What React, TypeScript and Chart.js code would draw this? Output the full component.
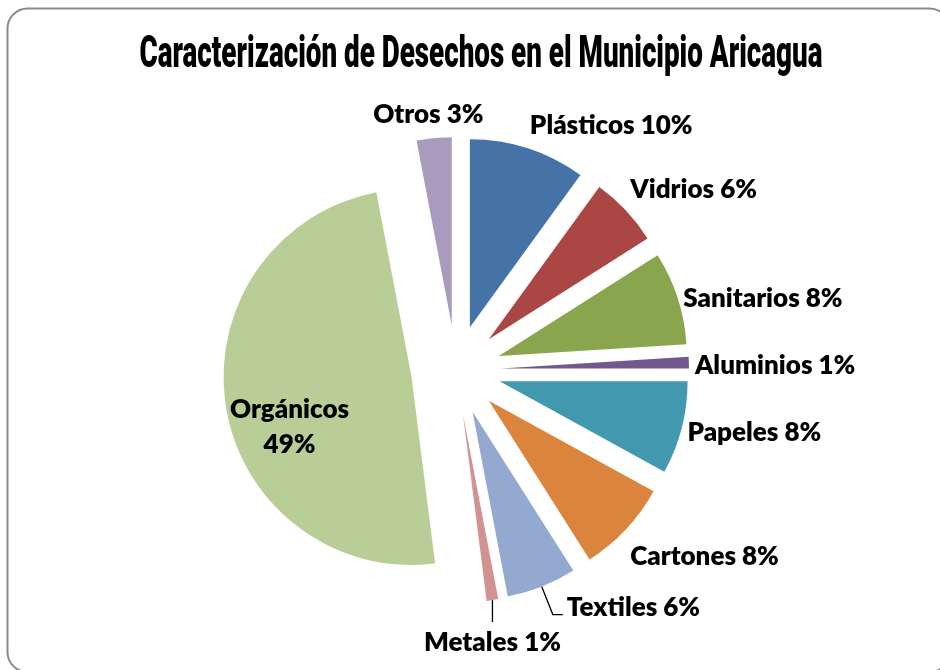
import React, { useEffect, useRef } from 'react';
import { Chart, registerables } from 'chart.js';

Chart.register(...registerables);

// ---------- data ----------
const TITLE = 'Caracterización de Desechos en el Municipio Aricagua';
const categories = ['Plásticos', 'Vidrios', 'Sanitarios', 'Aluminios', 'Papeles', 'Cartones', 'Textiles', 'Metales', 'Orgánicos', 'Otros'];
const percentages = [10, 6, 8, 1, 8, 8, 6, 1, 49, 3];
const colors = ['#4572A7', '#AA4643', '#89A54E', '#71588F', '#4198AF', '#DB843D', '#93A9CF', '#D19392', '#B9CD96', '#A99BBD'];
// labels that were dragged away from their slice (leader line length, px)
const leaderLengths: Record<string, number> = { Textiles: 30, Metales: 22 };

// ---------- layout / style ----------
const W = 940;
const H = 670;
const CENTER_X = 456;
const CENTER_Y = 370;
const RADIUS = 188;
const EXPLODE = 45;
const LABEL_GAP = 6;
const LABEL_FONT = '800 26px Lato, "Open Sans", sans-serif';
const LABEL_SQUEEZE = 1.0;
const CAP_H = 18.5;
const TITLE_FONT = '900 44px Roboto, "Liberation Sans", sans-serif';
const TITLE_WIDTH = 683;
const TITLE_CX = 481;
const TITLE_BASELINE = 67;
const INSIDE_ANGLE_SHIFT = -13 * Math.PI / 180;

const total = percentages.reduce((a, b) => a + b, 0);

function textWidth(ctx: CanvasRenderingContext2D, text: string) {
  ctx.font = LABEL_FONT;
  return ctx.measureText(text).width * LABEL_SQUEEZE;
}

function drawSqueezed(ctx: CanvasRenderingContext2D, text: string, x: number, baseline: number, align: 'left' | 'right' | 'center') {
  const w = textWidth(ctx, text);
  let left = x;
  if (align === 'right') left = x - w;
  else if (align === 'center') left = x - w / 2;
  ctx.save();
  ctx.translate(left, baseline);
  ctx.scale(LABEL_SQUEEZE, 1);
  ctx.font = LABEL_FONT;
  ctx.textAlign = 'left';
  ctx.textBaseline = 'alphabetic';
  ctx.fillText(text, 0, 0);
  ctx.restore();
}

// Each arc keeps the geometry Chart.js computed (x, y, angles, radius);
// it is only pushed outward along its mid angle by its `offset` option.
function explodedCenter(el: any) {
  const half = (el.startAngle + el.endAngle) / 2;
  const D = el.options.offset || 0;
  return { cx: el.x + Math.cos(half) * D, cy: el.y + Math.sin(half) * D, half, D };
}

const decorPlugin = {
  id: 'decor',
  beforeDraw(chart: any) {
    const ctx: CanvasRenderingContext2D = chart.ctx;
    ctx.save();
    ctx.fillStyle = '#ffffff';
    ctx.fillRect(0, 0, W, H);
    ctx.strokeStyle = '#8a8a8a';
    ctx.lineWidth = 2;
    ctx.beginPath();
    (ctx as any).roundRect(7.5, 8.5, 942, 663.5, 20);
    ctx.stroke();

    ctx.font = TITLE_FONT;
    ctx.fillStyle = '#000000';
    const tw = ctx.measureText(TITLE).width;
    ctx.translate(TITLE_CX, TITLE_BASELINE);
    ctx.scale(TITLE_WIDTH / tw, 1);
    ctx.textAlign = 'center';
    ctx.textBaseline = 'alphabetic';
    ctx.fillText(TITLE, 0, 0);
    ctx.restore();
  },
  beforeDatasetDraw(chart: any, args: any) {
    const ctx: CanvasRenderingContext2D = chart.ctx;
    const meta = args.meta;
    ctx.save();
    meta.data.forEach((el: any) => {
      const { cx, cy } = explodedCenter(el);
      ctx.fillStyle = el.options.backgroundColor;
      ctx.beginPath();
      ctx.moveTo(cx, cy);
      ctx.arc(cx, cy, el.outerRadius, el.startAngle, el.endAngle);
      ctx.closePath();
      ctx.fill();
    });
    ctx.restore();
    return false;
  },
  afterDatasetsDraw(chart: any) {
    const ctx: CanvasRenderingContext2D = chart.ctx;
    const meta = chart.getDatasetMeta(0);
    ctx.save();
    ctx.fillStyle = '#000000';
    ctx.strokeStyle = '#000000';
    ctx.lineWidth = 1.3;
    meta.data.forEach((el: any, i: number) => {
      const name = categories[i];
      const pct = Math.round((percentages[i] / total) * 100);
      const text = `${name} ${pct}%`;
      const { cx, cy, half, D } = explodedCenter(el);
      const ux = Math.cos(half);
      const uy = Math.sin(half);
      const R = el.outerRadius;

      if (pct >= 30) {
        const a = half + INSIDE_ANGLE_SHIFT;
        const px = cx + Math.cos(a) * R * 0.7;
        const py = cy + Math.sin(a) * R * 0.7;
        drawSqueezed(ctx, name, px, py - 17.5 + CAP_H / 2, 'center');
        drawSqueezed(ctx, `${pct}%`, px, py + 17.5 + CAP_H / 2, 'center');
        return;
      }

      const lead = leaderLengths[name];
      if (lead) {
        const sx = cx + ux * R;
        const sy = cy + uy * R;
        if (Math.abs(ux) > 0.2) {
          const ex = sx + ux * lead;
          const ey = sy + uy * lead;
          const tx = ex + Math.sign(ux) * 10;
          ctx.beginPath();
          ctx.moveTo(sx, sy);
          ctx.lineTo(ex, ey);
          ctx.lineTo(tx, ey);
          ctx.stroke();
          drawSqueezed(ctx, text, tx + Math.sign(ux) * 4, ey + 1.5, ux > 0 ? 'left' : 'right');
        } else {
          const ey = sy + Math.sign(uy) * lead;
          ctx.beginPath();
          ctx.moveTo(sx, sy);
          ctx.lineTo(sx, ey);
          ctx.stroke();
          drawSqueezed(ctx, text, sx, ey + 10 + CAP_H, 'center');
        }
        return;
      }

      const r = R + LABEL_GAP;
      const px = cx + ux * r;
      const py = cy + uy * r;
      const k = Math.max(0, Math.min(1, (Math.abs(uy) - 0.3) / 0.35));
      const ly = py + 2 + 20 * Math.sign(uy) * k;
      const baseline = ly + CAP_H / 2;
      if (ux > 0.2) drawSqueezed(ctx, text, px, baseline, 'left');
      else if (ux < -0.2) drawSqueezed(ctx, text, px, baseline, 'right');
      else {
        const w = textWidth(ctx, text);
        drawSqueezed(ctx, text, px + (ux * w) / 2, baseline, 'center');
      }
    });
    ctx.restore();
  },
};

export default function App() {
  const ref = useRef<HTMLCanvasElement | null>(null);
  useEffect(() => {
    if (!ref.current) return;
    const chart = new Chart(ref.current, {
      type: 'pie',
      data: {
        labels: categories,
        datasets: [
          {
            data: percentages,
            backgroundColor: colors,
            borderWidth: 0,
            radius: RADIUS,
            offset: EXPLODE,
          } as any,
        ],
      },
      options: {
        responsive: false,
        animation: false,
        devicePixelRatio: 1,
        events: [],
        layout: {
          padding: {
            left: 0,
            right: W - 2 * CENTER_X,
            top: 80,
            bottom: H - 2 * CENTER_Y + 80,
          },
        },
        plugins: {
          legend: { display: false },
          title: { display: false },
          tooltip: { enabled: false },
        },
      },
      plugins: [decorPlugin],
    });
    return () => chart.destroy();
  }, []);
  return (
    <div style={{ position: 'absolute', left: 0, top: 0, width: W, height: H, background: '#fff' }}>
      <canvas ref={ref} width={W} height={H} style={{ display: 'block' }} />
    </div>
  );
}
